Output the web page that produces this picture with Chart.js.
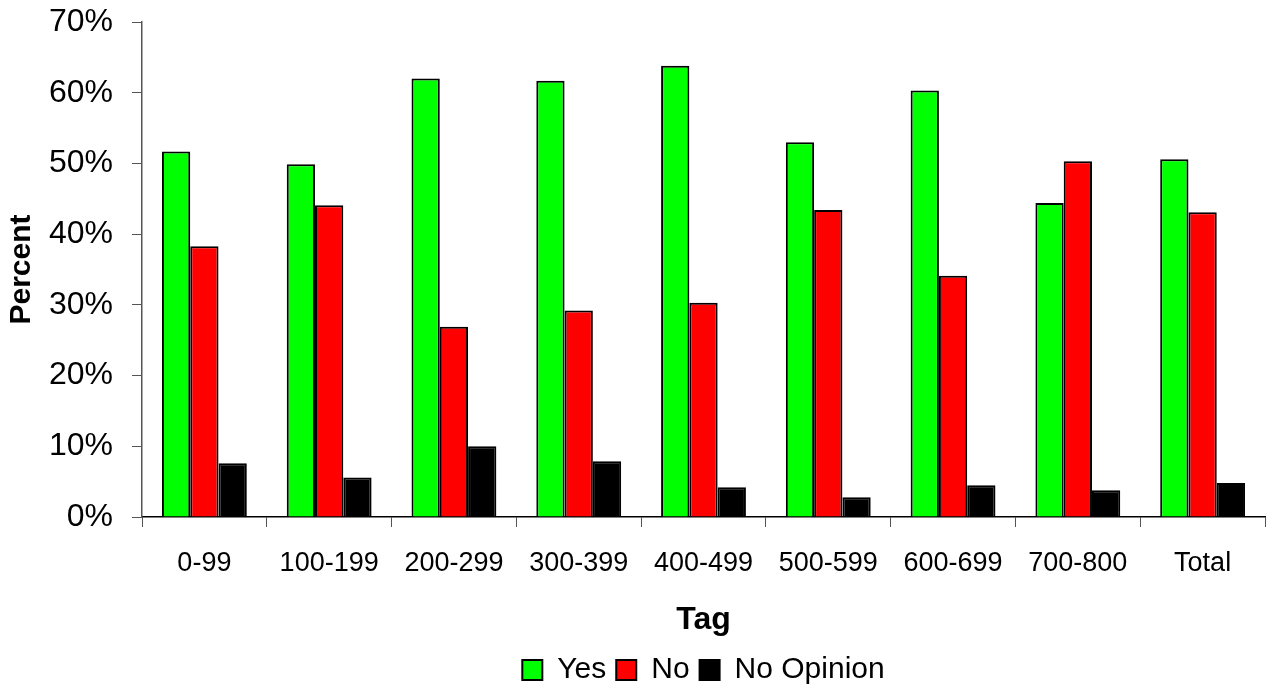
<!DOCTYPE html>
<html>
<head>
<meta charset="utf-8">
<script src="https://cdn.jsdelivr.net/npm/chart.js@4"></script>
<style>
  html, body { margin: 0; padding: 0; background: #fff; }
  #wrap { width: 1272px; height: 686px; }
</style>
</head>
<body>
<div id="wrap"><canvas id="chart" width="1272" height="686"></canvas></div>
<script>
const categories = ['0-99', '100-199', '200-299', '300-399', '400-499', '500-599', '600-699', '700-800', 'Total'];
const yesValues = [51.7, 49.9, 62.0, 61.7, 63.8, 53.0, 60.3, 44.4, 50.6];
const noValues = [38.3, 44.1, 26.9, 29.2, 30.3, 43.4, 34.1, 50.3, 43.1];
const noOpinionValues = [7.6, 5.6, 10.0, 7.9, 4.2, 2.8, 4.5, 3.8, 4.8];
const yTicks = [0, 10, 20, 30, 40, 50, 60, 70];

const font = 'Liberation Sans, Arial, sans-serif';

function series(label, values, color) {
  return {
    label: label,
    data: values,
    backgroundColor: color,
    borderColor: '#000',
    borderWidth: 2,
    borderSkipped: 'bottom',
    categoryPercentage: 0.68,
    barPercentage: 1.0,
  };
}

new Chart(document.getElementById('chart'), {
  type: 'bar',
  data: {
    labels: categories,
    datasets: [
      series('Yes', yesValues, '#00ff00'),
      series('No', noValues, '#ff0000'),
      series('No Opinion', noOpinionValues, '#000000'),
    ]
  },
  options: {
    responsive: false,
    devicePixelRatio: 1,
    animation: false,
    layout: { padding: { top: 0, right: 7, left: 0, bottom: -9 } },
    plugins: {
      tooltip: { enabled: false },
      legend: {
        position: 'bottom',
        fullSize: false,
        labels: {
          font: { family: font, size: 30 },
          color: '#000',
          boxWidth: 20,
          boxHeight: 20,
          padding: 10,
        }
      }
    },
    scales: {
      x: {
        grid: { display: true, drawOnChartArea: false, tickLength: 10, color: '#555', offset: true },
        border: { color: '#000', width: 1.5 },
        ticks: { font: { family: font, size: 27 }, color: '#000', padding: 20, maxRotation: 0 },
        title: { display: true, text: 'Tag', font: { family: font, size: 32, weight: 'bold' }, color: '#000', padding: { top: 6, bottom: 6 } },
        afterFit: (s) => { s.height = 128; s.paddingLeft = 0; s.paddingRight = 0; }
      },
      y: {
        min: 0,
        max: 70,
        afterBuildTicks: (axis) => { axis.ticks = yTicks.map(v => ({ value: v })); },
        grid: { display: true, drawOnChartArea: false, tickLength: 10, color: '#555' },
        border: { color: '#555', width: 1.5 },
        ticks: { font: { family: font, size: 32 }, color: '#000', padding: 19, callback: v => v + '%' },
        title: { display: true, text: 'Percent', font: { family: font, size: 30, weight: 'bold' }, color: '#000', padding: { top: 4, bottom: 0 } },
        afterFit: (s) => { s.width = 142; s.paddingTop = 22; s.paddingBottom = 0; }
      }
    }
  }
});
</script>
</body>
</html>
